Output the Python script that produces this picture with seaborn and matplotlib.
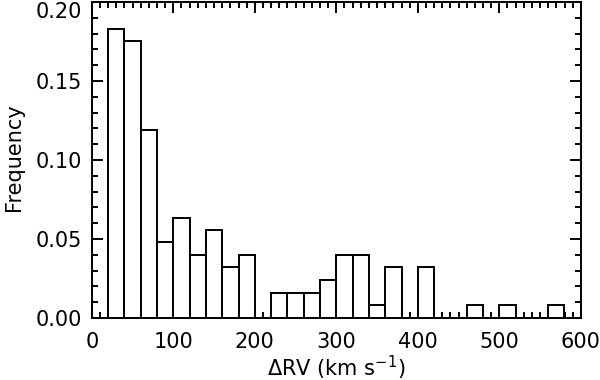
import numpy as np
import matplotlib
matplotlib.use("Agg")
import matplotlib.pyplot as plt
import seaborn as sns
from matplotlib.ticker import MultipleLocator

# bin edges of the histogram (km/s)
bin_lo = [20, 40, 60, 80, 100, 120, 140, 160, 180, 200, 220, 240, 260, 280,
          300, 320, 340, 360, 380, 400, 420, 440, 460, 480, 500, 520, 540, 560]
bin_width = 20

# frequency per bin
freq = [0.183, 0.175, 0.119, 0.048, 0.063, 0.040, 0.056, 0.032, 0.040, 0.0,
        0.016, 0.016, 0.016, 0.024, 0.040, 0.040, 0.008, 0.032, 0.0, 0.032,
        0.0, 0.0, 0.008, 0.0, 0.008, 0.0, 0.0, 0.008]

x_ticks = [0, 100, 200, 300, 400, 500, 600]
y_ticks = [0.00, 0.05, 0.10, 0.15, 0.20]

sns.set_style("ticks")
plt.rcParams["font.family"] = ["DejaVu Sans"]

fig = plt.figure(figsize=(6, 3.8), dpi=100)
ax = fig.add_axes([0.153, 0.163, 0.815, 0.832])

centers = np.array(bin_lo) + bin_width / 2
sns.histplot(x=centers, weights=freq, binwidth=bin_width,
             binrange=(bin_lo[0], bin_lo[-1] + bin_width),
             stat="count", element="bars", fill=True,
             color="white", edgecolor="black", linewidth=1.4, alpha=1, ax=ax)

ax.set_xlim(0, 600)
ax.set_ylim(0, 0.20)
ax.set_xticks(x_ticks)
ax.set_yticks(y_ticks)
ax.set_yticklabels([f"{v:.2f}" for v in y_ticks])
ax.xaxis.set_minor_locator(MultipleLocator(10))
ax.yaxis.set_minor_locator(MultipleLocator(0.01))

ax.tick_params(which="both", direction="in", top=True, right=True,
               color="black", width=1.4, labelsize=15, labelcolor="black")
ax.tick_params(which="major", length=8)
ax.tick_params(which="minor", length=4)
ax.tick_params(axis="x", which="major", pad=10)
ax.tick_params(axis="y", which="major", pad=7)
for s in ax.spines.values():
    s.set_visible(True)
    s.set_linewidth(1.4)
    s.set_color("black")

# top label sits just inside the figure, as in the original
ax.get_yticklabels()[-1].set_verticalalignment("top")

ax.set_xlabel(r"$\Delta$RV (km s$^{-1}$)", fontsize=15, labelpad=1,
              color="black")
ax.set_ylabel("Frequency", fontsize=15, color="black")
ax.yaxis.set_label_coords(-0.138, 0.51)

fig.savefig("out.png", dpi=100)
